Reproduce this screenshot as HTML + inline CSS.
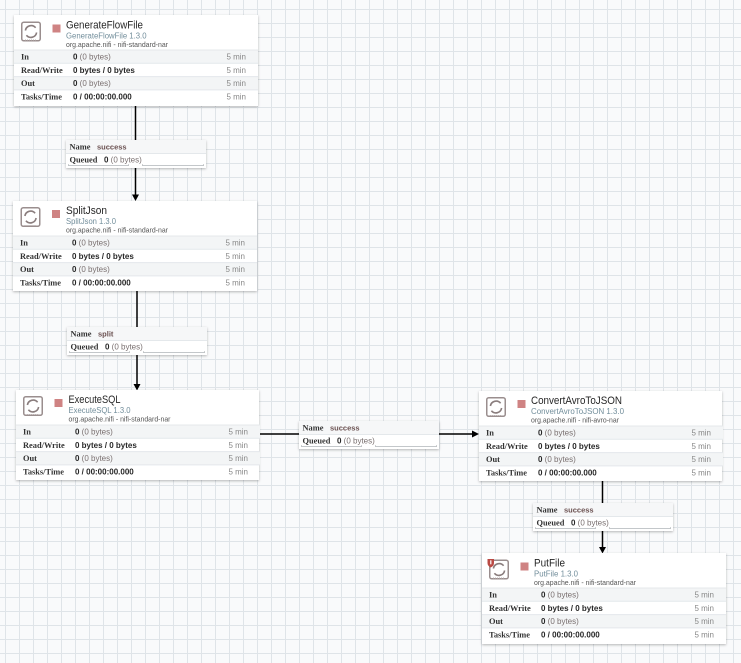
<!DOCTYPE html>
<html><head><meta charset="utf-8"><style>
html,body{margin:0;padding:0;background:#f9fafb;}
svg{display:block;}
.t{font-family:"Liberation Sans",sans-serif;font-size:11px;fill:#262626;}
.v{font-family:"Liberation Sans",sans-serif;font-size:8px;fill:#728e9b;}
.b{font-family:"Liberation Sans",sans-serif;font-size:7.5px;fill:#555;}
.l{font-family:"Liberation Serif",serif;font-size:8.4px;font-weight:bold;fill:#333;}
.n{font-family:"Liberation Sans",sans-serif;font-size:8px;font-weight:bold;fill:#262626;}
.g{font-family:"Liberation Sans",sans-serif;font-size:8px;fill:#7a7070;}
.m{font-family:"Liberation Sans",sans-serif;font-size:8px;fill:#888;}
.s{font-family:"Liberation Sans",sans-serif;font-size:7.5px;font-weight:bold;fill:#6a5050;}
</style></head><body>
<svg width="741" height="663" viewBox="0 0 741 663" xmlns="http://www.w3.org/2000/svg">
<defs>
<pattern id="grid" x="5" y="9" width="14" height="14" patternUnits="userSpaceOnUse">
<rect x="0" y="0" width="14" height="14" fill="#f9fafb"/>
<rect x="0" y="0" width="1" height="14" fill="#dfe4e8"/>
<rect x="0" y="0" width="14" height="1" fill="#dfe4e8"/>
</pattern>
<filter id="sh" x="-10%" y="-15%" width="120%" height="140%">
<feDropShadow dx="0" dy="1" stdDeviation="1.4" flood-color="#000" flood-opacity="0.28"/>
</filter>
<g id="icon">
<rect x="0.75" y="0.75" width="18.5" height="18.5" rx="2" fill="#fff" stroke="#9a8e8e" stroke-width="1.5"/>
<path d="M4 18.5 H16" stroke="#b9afaf" stroke-width="1" stroke-dasharray="1 1"/>
<path d="M4.4 9 A5.8 5.8 0 0 1 14.6 6.2" fill="none" stroke="#8a7d7d" stroke-width="1.6"/>
<path d="M15.6 11 A5.8 5.8 0 0 1 5.4 13.8" fill="none" stroke="#8a7d7d" stroke-width="1.6"/>
</g>
<g id="rows">
<rect x="0" y="35" width="244" height="13.3" fill="#f3f5f6"/>
<rect x="0" y="61.6" width="244" height="13.3" fill="#f3f5f6"/>
<path d="M0 35 H244 M0 48.3 H244 M0 61.6 H244 M0 74.9 H244" stroke="#e4e8eb" stroke-width="1"/>
<text class="l" x="7" y="44.6">In</text>
<text class="l" x="7" y="57.9">Read/Write</text>
<text class="l" x="7" y="71.2">Out</text>
<text class="l" x="7" y="84.5">Tasks/Time</text>
<text x="59" y="44.6"><tspan class="n">0</tspan><tspan class="g"> (0 bytes)</tspan></text>
<text class="n" x="59" y="57.9">0 bytes / 0 bytes</text>
<text x="59" y="71.2"><tspan class="n">0</tspan><tspan class="g"> (0 bytes)</tspan></text>
<text class="n" x="59" y="84.5">0 / 00:00:00.000</text>
<text class="m" x="232" y="44.6" text-anchor="end">5 min</text>
<text class="m" x="232" y="57.9" text-anchor="end">5 min</text>
<text class="m" x="232" y="71.2" text-anchor="end">5 min</text>
<text class="m" x="232" y="84.5" text-anchor="end">5 min</text>
</g>
<g id="clabel">
<rect x="0" y="0" width="140" height="28" fill="#fff" filter="url(#sh)"/>
<rect x="0" y="0" width="140" height="13" fill="#f6f7f8"/>
<path d="M0 13.5 H140" stroke="#e4e8eb" stroke-width="1"/>
<text class="l" x="3.5" y="9.3">Name</text>
<text class="l" x="3.5" y="22.3">Queued</text>
<text x="38" y="22.3"><tspan class="n">0</tspan><tspan class="g"> (0 bytes)</tspan></text>
<path d="M2.5 25.5 H62.5 M76.5 25.5 H137.5" stroke="#c3c7ca" stroke-width="1"/>
<path d="M2.5 24.5 V25.5 M62.5 24.5 V25.5 M76.5 24.5 V25.5 M137.5 24.5 V25.5" stroke="#9ea3a6" stroke-width="1"/>
</g>
</defs>

<rect x="0" y="0" width="741" height="663" fill="url(#grid)"/>

<!-- connection lines -->
<g stroke="#000" stroke-width="1.5" fill="none">
<path d="M135.5 106 V196"/>
<path d="M137 291 V385"/>
<path d="M259 434 H473"/>
<path d="M602.5 481 V548"/>
</g>
<g fill="#000">
<polygon points="132,194.5 139,194.5 135.5,201"/>
<polygon points="133.5,384 140.5,384 137,390.5"/>
<polygon points="472,430.5 472,437.5 479,434"/>
<polygon points="599,547 606,547 602.5,553.5"/>
</g>

<!-- connection labels -->
<g transform="translate(66,140)"><use href="#clabel"/><text class="s" x="31" y="9.3">success</text></g>
<g transform="translate(67,327)"><use href="#clabel"/><text class="s" x="31" y="9.3">split</text></g>
<g transform="translate(299,421)"><use href="#clabel"/><text class="s" x="31" y="9.3">success</text></g>
<g transform="translate(533,503)"><use href="#clabel"/><text class="s" x="31" y="9.3">success</text></g>

<!-- processors -->
<g transform="translate(14,15)">
<rect x="0" y="0" width="244" height="91" fill="#fff" filter="url(#sh)"/>
<use href="#rows"/>
<use href="#icon" transform="translate(7,6.5)"/>
<rect x="38.5" y="9.5" width="8" height="8" fill="#cf8383"/>
<text class="t" x="52" y="13.3" textLength="77" lengthAdjust="spacingAndGlyphs">GenerateFlowFile</text>
<text class="v" x="52" y="23.5" textLength="80.5" lengthAdjust="spacingAndGlyphs">GenerateFlowFile 1.3.0</text>
<text class="b" x="52" y="32" textLength="102" lengthAdjust="spacingAndGlyphs">org.apache.nifi - nifi-standard-nar</text>
</g>

<g transform="translate(13,201)">
<rect x="0" y="0" width="244" height="90" fill="#fff" filter="url(#sh)"/>
<use href="#rows"/>
<use href="#icon" transform="translate(7.5,6)"/>
<rect x="39" y="9" width="8" height="8" fill="#cf8383"/>
<text class="t" x="53" y="12.8" textLength="41" lengthAdjust="spacingAndGlyphs">SplitJson</text>
<text class="v" x="53" y="23" textLength="50" lengthAdjust="spacingAndGlyphs">SplitJson 1.3.0</text>
<text class="b" x="53" y="31.5" textLength="102" lengthAdjust="spacingAndGlyphs">org.apache.nifi - nifi-standard-nar</text>
</g>

<g transform="translate(16,390)">
<rect x="0" y="0" width="243" height="90" fill="#fff" filter="url(#sh)"/>
<use href="#rows"/>
<use href="#icon" transform="translate(7,6)"/>
<rect x="38.5" y="9" width="8" height="8" fill="#cf8383"/>
<text class="t" x="52.5" y="13" textLength="52" lengthAdjust="spacingAndGlyphs">ExecuteSQL</text>
<text class="v" x="52.5" y="23" textLength="62" lengthAdjust="spacingAndGlyphs">ExecuteSQL 1.3.0</text>
<text class="b" x="52.5" y="31.5" textLength="102" lengthAdjust="spacingAndGlyphs">org.apache.nifi - nifi-standard-nar</text>
</g>

<g transform="translate(479,391)">
<rect x="0" y="0" width="243" height="90" fill="#fff" filter="url(#sh)"/>
<use href="#rows"/>
<use href="#icon" transform="translate(7,6)"/>
<rect x="38.5" y="9" width="8" height="8" fill="#cf8383"/>
<text class="t" x="52" y="13" textLength="91" lengthAdjust="spacingAndGlyphs">ConvertAvroToJSON</text>
<text class="v" x="52" y="23" textLength="93" lengthAdjust="spacingAndGlyphs">ConvertAvroToJSON 1.3.0</text>
<text class="b" x="52" y="31.5" textLength="88" lengthAdjust="spacingAndGlyphs">org.apache.nifi - nifi-avro-nar</text>
</g>

<g transform="translate(482,553)">
<rect x="0" y="0" width="244" height="91" fill="#fff" filter="url(#sh)"/>
<use href="#rows"/>
<use href="#icon" transform="translate(7,6.5)"/>
<path d="M5.5 6 H12 V10 Q12 13 8.75 14.5 Q5.5 13 5.5 10 Z" fill="#ba4a44"/>
<rect x="8.2" y="7.3" width="1.2" height="4" fill="#fff"/>
<rect x="38.5" y="9.5" width="8" height="8" fill="#cf8383"/>
<text class="t" x="52" y="13.3" textLength="31" lengthAdjust="spacingAndGlyphs">PutFile</text>
<text class="v" x="52" y="23.5" textLength="44" lengthAdjust="spacingAndGlyphs">PutFile 1.3.0</text>
<text class="b" x="52" y="32" textLength="102" lengthAdjust="spacingAndGlyphs">org.apache.nifi - nifi-standard-nar</text>
</g>
</svg>
</body></html>
